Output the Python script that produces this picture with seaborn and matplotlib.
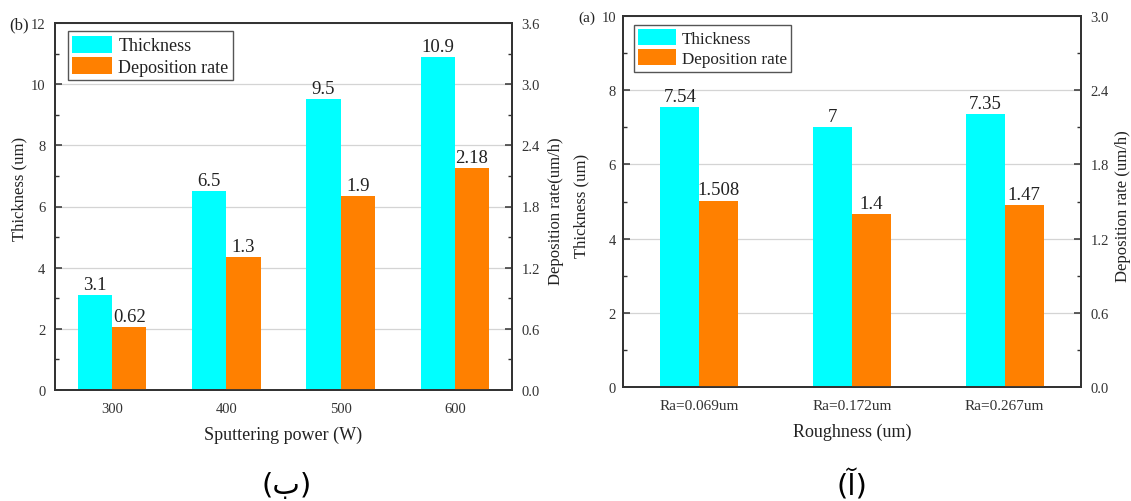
import matplotlib
matplotlib.use("Agg")
import matplotlib.pyplot as plt
import pandas as pd
import seaborn as sns
from matplotlib.patches import Patch
from matplotlib.ticker import MultipleLocator, FormatStrFormatter

# Panel (b): effect of sputtering power
power_labels = ["300", "400", "500", "600"]
power_thickness = [3.1, 6.5, 9.5, 10.9]
power_rate = [0.62, 1.3, 1.9, 2.18]

# Panel (a): effect of substrate roughness
rough_labels = ["Ra=0.069um", "Ra=0.172um", "Ra=0.267um"]
rough_thickness = [7.54, 7.0, 7.35]
rough_rate = [1.508, 1.4, 1.47]

series = ["Thickness", "Deposition rate"]
palette = {"Thickness": "#00FFFF", "Deposition rate": "#FF8000"}

sns.set_style("white")
plt.rcParams["font.family"] = ["Liberation Serif", "DejaVu Serif"]
plt.rcParams["text.color"] = "#222222"
plt.rcParams["axes.labelcolor"] = "#222222"
plt.rcParams["xtick.color"] = "#333333"
plt.rcParams["ytick.color"] = "#333333"

fig = plt.figure(figsize=(11.31, 5.02), dpi=100)
W, H = 1131, 502


def px_rect(x0, y0, x1, y1):
    return [x0 / W, 1 - y1 / H, (x1 - x0) / W, (y1 - y0) / H]


def series_bars(ax, name):
    """Return the bar patches drawn for one hue level."""
    for c in ax.containers:
        patches = [p for p in c if p is not None]
        if patches and c.get_label() == name:
            return patches
    for c in ax.containers:
        patches = [p for p in c if p is not None]
        if patches:
            return patches
    return []


def label_bars(ax, bars, values, fs):
    for bar, v in zip(bars, values):
        ax.annotate(f"{v:g}", (bar.get_x() + bar.get_width() / 2, bar.get_height()),
                    xytext=(0, 1.5), textcoords="offset points",
                    ha="center", va="bottom", fontsize=fs, color="#222222")


def draw_panel(rect, cats, thick, rate, tmax, rmax, rstep, width,
               xlabel, rlabel, tick_fs, xtick_fs, label_fs, ylabel_fs,
               value_fs, legend_fs, legend_anchor, handle_h, left_pad,
               ylabel_xy, rlabel_xy):
    ax = fig.add_axes(rect)
    ax2 = ax.twinx()

    df_t = pd.DataFrame({"cat": cats, "series": "Thickness", "value": thick})
    df_r = pd.DataFrame({"cat": cats, "series": "Deposition rate", "value": rate})

    sns.barplot(data=df_t, x="cat", y="value", hue="series", hue_order=series,
                order=cats, palette=palette, width=width, dodge=True,
                saturation=1, errorbar=None, legend=False, linewidth=0, ax=ax)
    sns.barplot(data=df_r, x="cat", y="value", hue="series", hue_order=series,
                order=cats, palette=palette, width=width, dodge=True,
                saturation=1, errorbar=None, legend=False, linewidth=0, ax=ax2)

    label_bars(ax, series_bars(ax, "Thickness"), thick, value_fs)
    label_bars(ax2, series_bars(ax2, "Deposition rate"), rate, value_fs)

    ax.set_ylim(0, tmax)
    ax2.set_ylim(0, rmax)
    ax.yaxis.set_major_locator(MultipleLocator(2))
    ax.yaxis.set_minor_locator(MultipleLocator(1))
    ax2.yaxis.set_major_locator(MultipleLocator(rstep))
    ax2.yaxis.set_minor_locator(MultipleLocator(rstep / 2))
    ax2.yaxis.set_major_formatter(FormatStrFormatter("%.1f"))

    ax.set_axisbelow(True)
    ax.grid(axis="y", which="major", color="#d4d4d4", linewidth=0.9)

    for a in (ax, ax2):
        a.tick_params(which="both", direction="in", labelsize=tick_fs, pad=7)
        a.tick_params(which="major", length=5, width=1.1)
        a.tick_params(which="minor", length=3, width=1.0)
        for s in a.spines.values():
            s.set_color("#333333")
            s.set_linewidth(1.3)
    ax.tick_params(axis="y", pad=left_pad)
    ax.tick_params(axis="x", length=5, width=1.1, labelsize=xtick_fs, pad=9)

    ax.set_xlabel(xlabel, fontsize=label_fs, labelpad=7)
    ax.set_ylabel("Thickness (um)", fontsize=ylabel_fs)
    ax.yaxis.set_label_coords(*ylabel_xy)
    ax2.set_ylabel(rlabel, fontsize=ylabel_fs)
    ax2.yaxis.set_label_coords(*rlabel_xy)

    handles = [Patch(facecolor=palette[s], edgecolor="none", label=s) for s in series]
    leg = ax2.legend(handles=handles, loc="upper left", bbox_to_anchor=legend_anchor,
                     frameon=True, fancybox=False, framealpha=1,
                     edgecolor="#555555", fontsize=legend_fs,
                     handlelength=2.2, handleheight=handle_h, labelspacing=0.15,
                     handletextpad=0.35, borderpad=0.25, borderaxespad=0)
    leg.get_frame().set_linewidth(1.0)
    return ax, ax2


# Left: sputtering power (axes 55..512 px wide, 24..391 px tall)
draw_panel(px_rect(55, 24, 512, 391), power_labels, power_thickness, power_rate,
           12, 3.6, 0.6, 0.6, "Sputtering power (W)", "Deposition rate(um/h)",
           tick_fs=10.5, xtick_fs=10.5, label_fs=13, ylabel_fs=12,
           value_fs=13.5, legend_fs=13, legend_anchor=(0.028, 0.978),
           handle_h=1.1, left_pad=7,
           ylabel_xy=(-(55 - 27) / 457, 0.55), rlabel_xy=(1 + (548 - 512) / 457, 0.49))

# Right: roughness (axes 623..1081 px wide, 17..388 px tall)
draw_panel(px_rect(623, 17, 1081, 388), rough_labels, rough_thickness, rough_rate,
           10, 3.0, 0.6, 0.51, "Roughness (um)", "Deposition rate (um/h)",
           tick_fs=10.5, xtick_fs=11, label_fs=13, ylabel_fs=12,
           value_fs=13.5, legend_fs=12.3, legend_anchor=(0.024, 0.976),
           handle_h=1.05, left_pad=5,
           ylabel_xy=(-(623 - 589) / 458, 0.49), rlabel_xy=(1 + (1115 - 1081) / 458, 0.49))

fig.text(9 / W, 1 - 25 / H, "(b)", fontsize=12, va="center", ha="left")
fig.text(578 / W, 1 - 18 / H, "(a)", fontsize=11, va="center", ha="left")

fig.text(287 / W, 1 - 486 / H, "(ب)", fontsize=21, ha="center", va="center",
         family=["DejaVu Sans"], color="black")
fig.text(852 / W, 1 - 486 / H, "(آ)", fontsize=21, ha="center", va="center",
         family=["DejaVu Sans"], color="black")

fig.savefig("out.png", dpi=100)
